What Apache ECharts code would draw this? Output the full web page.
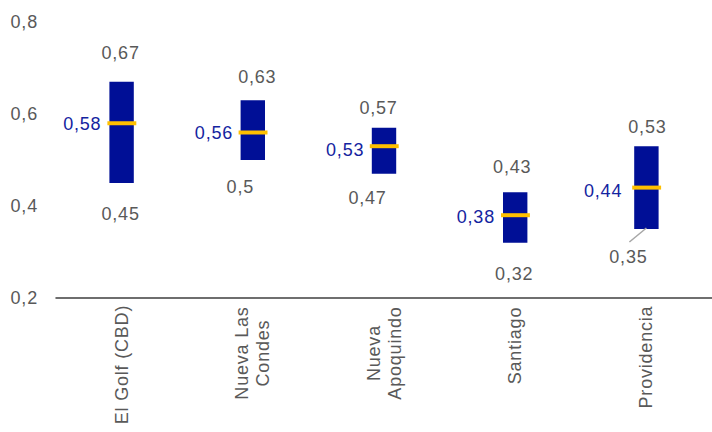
<!DOCTYPE html>
<html>
<head>
<meta charset="utf-8">
<script src="https://cdn.jsdelivr.net/npm/echarts@6/dist/echarts.min.js"></script>
<style>
  html, body { margin: 0; padding: 0; background: #ffffff; }
  #chart { width: 712px; height: 432px; letter-spacing: 0.8px; }
</style>
</head>
<body>
<div id="chart"></div>
<script>
// Office districts and their low / high / median values
const categories = ['El Golf (CBD)', 'Nueva Las\nCondes', 'Nueva\nApoquindo', 'Santiago', 'Providencia'];
const lowValues = [0.45, 0.5, 0.47, 0.32, 0.35];
const highValues = [0.67, 0.63, 0.57, 0.43, 0.53];
const midValues = [0.58, 0.56, 0.53, 0.38, 0.44];
const yTickValues = [0.2, 0.4, 0.6, 0.8];

// Label placement tweaks (pixels): [dx, dy]
const highLabelShift = [[-1, -29], [4.5, -23], [-5.5, -20], [-3, -25], [1, -19]];
const lowLabelShift = [[-1, 31], [-12.5, 26.5], [-16.5, 24], [-1, 31], [-18, 28]];
const midLabelShift = [[-8, 1], [-7.5, 1], [-7.5, 4], [-8, 2], [-12, 3]];
const lowLeader = [false, false, false, false, true];

const FONT = "'Liberation Sans', Arial, sans-serif";
const FS = 18;
const GREY = '#595959';
const BAR = '#000F96';
const MID_LINE = '#FFC000';
const MID_TEXT = '#14249F';

const fmt = v => String(v).replace('.', ',');

const rows = categories.map((c, i) => [i, lowValues[i], highValues[i], midValues[i]]);

function renderItem(params, api) {
  const i = api.value(0);
  const lo = api.coord([i, api.value(1)]);
  const hi = api.coord([i, api.value(2)]);
  const md = api.coord([i, api.value(3)]);
  const band = api.size([1, 0])[0];
  const bw = band * 0.186;
  const cx = lo[0];
  const left = cx - bw / 2;
  const children = [
    { type: 'rect', shape: { x: left, y: hi[1], width: bw, height: lo[1] - hi[1] }, style: { fill: BAR } },
    { type: 'rect', shape: { x: left - 2, y: md[1] - 2, width: bw + 4.5, height: 4 }, style: { fill: MID_LINE } },
    { type: 'text', style: { text: fmt(api.value(2)), x: cx + highLabelShift[i][0], y: hi[1] + highLabelShift[i][1],
        align: 'center', verticalAlign: 'middle', fontSize: FS, fontFamily: FONT, fill: GREY } },
    { type: 'text', style: { text: fmt(api.value(1)), x: cx + lowLabelShift[i][0], y: lo[1] + lowLabelShift[i][1],
        align: 'center', verticalAlign: 'middle', fontSize: FS, fontFamily: FONT, fill: GREY } },
    { type: 'text', style: { text: fmt(api.value(3)), x: left + midLabelShift[i][0], y: md[1] + midLabelShift[i][1],
        align: 'right', verticalAlign: 'middle', fontSize: FS, fontFamily: FONT, fill: MID_TEXT } }
  ];
  if (lowLeader[i]) {
    const lx = cx + lowLabelShift[i][0];
    const ly = lo[1] + lowLabelShift[i][1];
    children.push({ type: 'line', shape: { x1: cx, y1: lo[1] - 1, x2: lx + 1, y2: ly - 15 },
      style: { stroke: '#A6A6A6', lineWidth: 1.5 } });
  }
  return { type: 'group', children };
}

const chart = echarts.init(document.getElementById('chart'), null, { renderer: 'svg' });
chart.setOption({
  animation: false,
  backgroundColor: '#ffffff',
  grid: { left: 56, top: 22, width: 661, height: 276, containLabel: false },
  xAxis: {
    type: 'category',
    data: categories,
    axisTick: { show: false },
    axisLine: { lineStyle: { color: '#3F3F3F', width: 1.5 } },
    axisLabel: {
      interval: 0,
      rotate: 90,
      margin: 12,
      formatter: v => v.split('\n').map(s => '{c|' + s + '}').join('\n'),
      rich: { c: { align: 'center', fontSize: FS, lineHeight: 21, color: GREY, fontFamily: FONT } }
    }
  },
  yAxis: {
    type: 'value',
    min: yTickValues[0],
    max: yTickValues[yTickValues.length - 1],
    interval: yTickValues[1] - yTickValues[0],
    axisLine: { show: false },
    axisTick: { show: false },
    splitLine: { show: false },
    axisLabel: { margin: 18, color: GREY, fontSize: FS, fontFamily: FONT,
      formatter: v => v.toFixed(1).replace('.', ',') }
  },
  series: [{
    type: 'custom',
    renderItem,
    data: rows,
    encode: { x: 0, y: [1, 2, 3] },
    clip: false
  }]
});
</script>
</body>
</html>
